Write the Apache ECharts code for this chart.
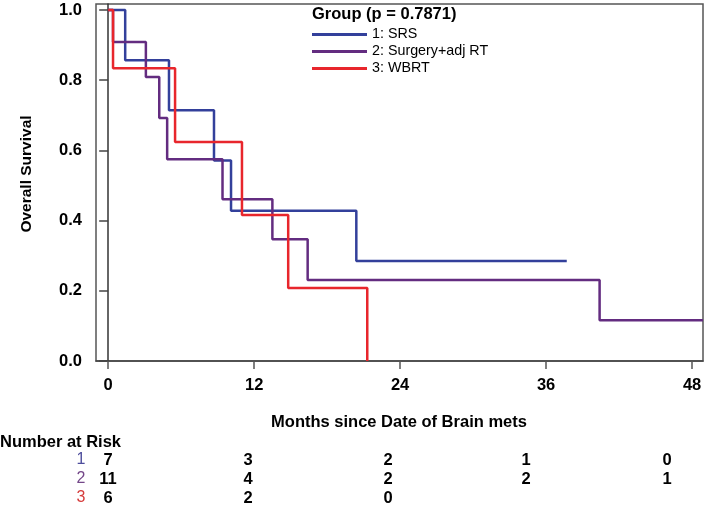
<!DOCTYPE html>
<html>
<head>
<meta charset="utf-8">
<script src="https://cdn.jsdelivr.net/npm/echarts@6/dist/echarts.min.js"></script>
<style>
html,body{margin:0;padding:0;background:#fff;}
#chart{width:707px;height:513px;}
</style>
</head>
<body>
<div id="chart"></div>
<script>
// ---- data ----
const groupNames = ['1: SRS', '2: Surgery+adj RT', '3: WBRT'];
const srsTimes   = [0, 1.4, 5.0, 8.7, 10.1, 20.4, 37.7];
const srsSurv    = [1, 0.857, 0.714, 0.571, 0.428, 0.285, 0.285];
const surgTimes  = [0, 0.4, 3.1, 4.2, 4.85, 9.4, 13.5, 16.4, 40.4, 48.9];
const surgSurv   = [1, 0.909, 0.809, 0.692, 0.575, 0.461, 0.347, 0.231, 0.116, 0.116];
const wbrtTimes  = [0, 0.4, 5.5, 11.0, 14.8, 21.3];
const wbrtSurv   = [1, 0.834, 0.624, 0.416, 0.208, 0];
const xTicks = [0, 12, 24, 36, 48];
const yTicks = [0, 0.2, 0.4, 0.6, 0.8, 1.0];
const riskLabels = ['1', '2', '3'];
const riskSRS  = [7, 3, 2, 1, 0];
const riskSurg = [11, 4, 2, 2, 1];
const riskWBRT = [6, 2, 0];
const pValueText = 'Group (p = 0.7871)';

// ---- layout / style ----
const FONT = '"Liberation Sans", Arial, Helvetica, sans-serif';
const colors = ['#33409b', '#632c80', '#e8262c'];
const riskLabelColors = ['#4d4d9c', '#744789', '#d63b3b'];
const riskX = [108, 248, 388, 526, 667];
const riskRowY = [460, 479, 498];

function zip(t, s) { return t.map((v, i) => [v, s[i]]); }

const chart = echarts.init(document.getElementById('chart'), null, {renderer: 'canvas'});

const graphics = [
  {type: 'text', x: 27, y: 174, rotation: Math.PI / 2,
   style: {text: 'Overall Survival', font: 'bold 15.5px ' + FONT, fill: '#000', align: 'center', verticalAlign: 'middle'}},
  {type: 'text', x: 399, y: 422,
   style: {text: 'Months since Date of Brain mets', font: 'bold 16.5px ' + FONT, fill: '#000', align: 'center', verticalAlign: 'middle'}},
  {type: 'text', x: 0, y: 442,
   style: {text: 'Number at Risk', font: 'bold 16.5px ' + FONT, fill: '#000', align: 'left', verticalAlign: 'middle'}}
];
const riskRows = [riskSRS, riskSurg, riskWBRT];
riskRows.forEach((row, r) => {
  graphics.push({type: 'text', x: 81, y: riskRowY[r],
    style: {text: riskLabels[r], font: '16px ' + FONT, fill: riskLabelColors[r], align: 'center', verticalAlign: 'middle'}});
  row.forEach((v, i) => {
    graphics.push({type: 'text', x: riskX[i], y: riskRowY[r],
      style: {text: String(v), font: 'bold 16.5px ' + FONT, fill: '#000', align: 'center', verticalAlign: 'middle'}});
  });
});

const mkSeries = (name, t, s, c) => ({
  name: name, type: 'line', step: 'end', data: zip(t, s), symbol: 'none',
  lineStyle: {color: c, width: 2.5}, itemStyle: {color: c}, clip: true, animation: false
});

chart.setOption({
  animation: false,
  backgroundColor: '#fff',
  title: {text: pValueText, left: 312, top: 6, padding: 0,
    textStyle: {fontFamily: FONT, fontSize: 16.5, fontWeight: 'bold', color: '#000'}},
  legend: {
    orient: 'vertical', left: 312, top: 26, padding: 0, itemGap: 0,
    itemWidth: 55, itemHeight: 3, icon: 'rect',
    data: groupNames,
    textStyle: {fontFamily: FONT, fontSize: 14.3, color: '#000', lineHeight: 17, padding: [0,0,0,0]}
  },
  grid: {left: 96, right: 4, top: 4, bottom: 152, show: true, borderColor: '#555', borderWidth: 1.5, backgroundColor: 'transparent'},
  xAxis: {
    type: 'value', min: -1, max: 48.9,
    axisLine: {show: true, lineStyle: {color: '#444', width: 1.5}},
    axisTick: {show: true, length: 8, inside: false, customValues: xTicks, lineStyle: {color: '#555', width: 1.5}},
    axisLabel: {customValues: xTicks, margin: 16, fontFamily: FONT, fontSize: 16.5, fontWeight: 'bold', color: '#000'},
    splitLine: {show: false}
  },
  yAxis: {
    type: 'value', min: 0, max: 1.017,
    axisLine: {show: true, lineStyle: {color: '#333', width: 1.5}},
    axisTick: {show: true, length: 9, inside: false, customValues: yTicks, lineStyle: {color: '#444', width: 1.5}},
    axisLabel: {customValues: yTicks, margin: 14, fontFamily: FONT, fontSize: 16.5, fontWeight: 'bold', color: '#000',
      formatter: v => Number(v).toFixed(1)},
    splitLine: {show: false}
  },
  series: [
    mkSeries(groupNames[0], srsTimes, srsSurv, colors[0]),
    mkSeries(groupNames[1], surgTimes, surgSurv, colors[1]),
    mkSeries(groupNames[2], wbrtTimes, wbrtSurv, colors[2])
  ],
  graphic: graphics
});
</script>
</body>
</html>
